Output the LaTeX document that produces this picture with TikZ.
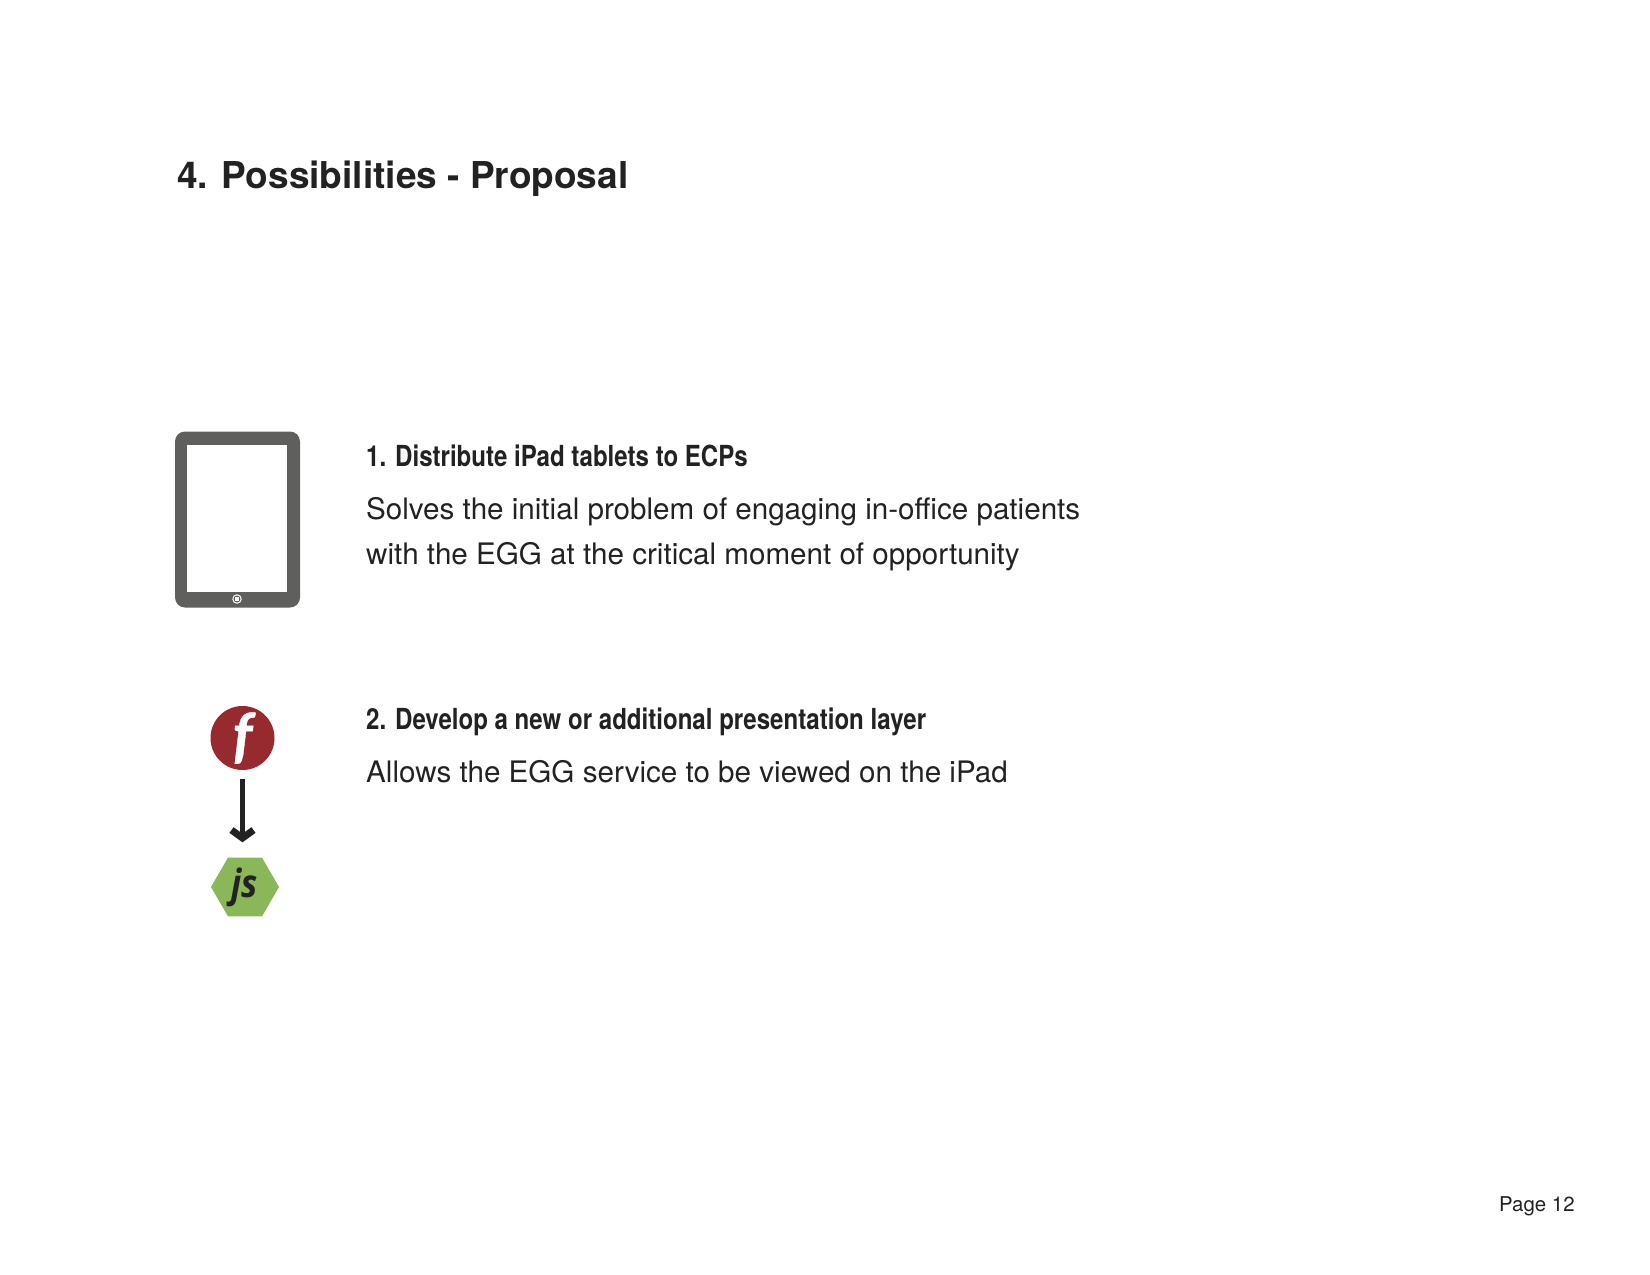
\documentclass[tikz,border=0pt]{standalone}
\usepackage{fontspec}
\usetikzlibrary{arrows.meta}
\usetikzlibrary{shapes.geometric}
\setmainfont{TeX Gyre Heros}
\newfontfamily\narrowbold[FakeStretch=0.83]{TeX Gyre Heros}
\newfontfamily\logofont[FakeStretch=0.88]{Open Sans}
\newfontfamily\flashfont[FakeBold=0.6]{Lato}
\definecolor{inktext}{HTML}{222222}
\definecolor{tabletgrey}{HTML}{5F5F5E}
\definecolor{flashred}{HTML}{962A2F}
\definecolor{jsgreen}{HTML}{8AB858}
\tikzset{
  pagetitle/.style={anchor=base west,inner sep=0pt,text=inktext,font=\fontsize{37}{37}\selectfont\bfseries},
  itemhead/.style={anchor=base west,inner sep=0pt,text=inktext,font=\fontsize{29}{29}\narrowbold\bfseries},
  itembody/.style={anchor=base west,inner sep=0pt,text=inktext,font=\fontsize{29.6}{29.6}\selectfont},
  pagenum/.style={anchor=base west,inner sep=0pt,text=inktext,font=\fontsize{20.4}{20.4}\selectfont},
}
\begin{document}
\begin{tikzpicture}[x=1pt,y=-1pt]
  \useasboundingbox (0,0) rectangle (1650,1275);
  \node(title) [pagetitle] at (177,188) {4. Possibilities - Proposal};
  % tablet
  \node(tablet) [fill=tabletgrey,rounded corners=10pt,minimum width=125pt,minimum height=176pt,inner sep=0pt] at (237.5,519.5) {};
  \node(screen) [fill=white,minimum width=100pt,minimum height=147pt,inner sep=0pt] at (237,518) {};
  \node(button) [circle,fill=white,minimum size=9.5pt,inner sep=0pt] at (237,599) {};
  \node(buttonring) [circle,fill=tabletgrey,minimum size=7pt,inner sep=0pt] at (237,599) {};
  \node(buttonmark) [fill=white,minimum size=4.5pt,inner sep=0pt] at (237,599) {};
  % items
  \node(head1) [itemhead] at (366,466) {1. Distribute iPad tablets to ECPs};
  \node(body1a) [itembody] at (366,519) {Solves the initial problem of engaging in-office patients};
  \node(body1b) [itembody] at (366,564) {with the EGG at the critical moment of opportunity};
  \node(head2) [itemhead] at (366,729.5) {2. Develop a new or additional presentation layer};
  \node(body2) [itembody] at (366,782) {Allows the EGG service to be viewed on the iPad};
  % logos
  \node(flash) [circle,fill=flashred,minimum size=64pt,inner sep=0pt,text=white,font=\fontsize{60}{60}\flashfont\bfseries\itshape] at (242.5,738) {f};
  \node(js) [regular polygon,regular polygon sides=6,fill=jsgreen,minimum size=68pt,inner sep=0pt,text=inktext,font=\fontsize{39}{39}\logofont\bfseries\itshape] at (245,887) {js};
  \draw[-{Straight Barb[length=8pt,width=22pt,line width=7pt]},line width=5pt,inktext,shorten <=9pt,shorten >=15pt] (flash.south) -- (flash.south |- js.north);
  \node(page) [pagenum] at (1499,1211) {Page 12};
\end{tikzpicture}
\end{document}
